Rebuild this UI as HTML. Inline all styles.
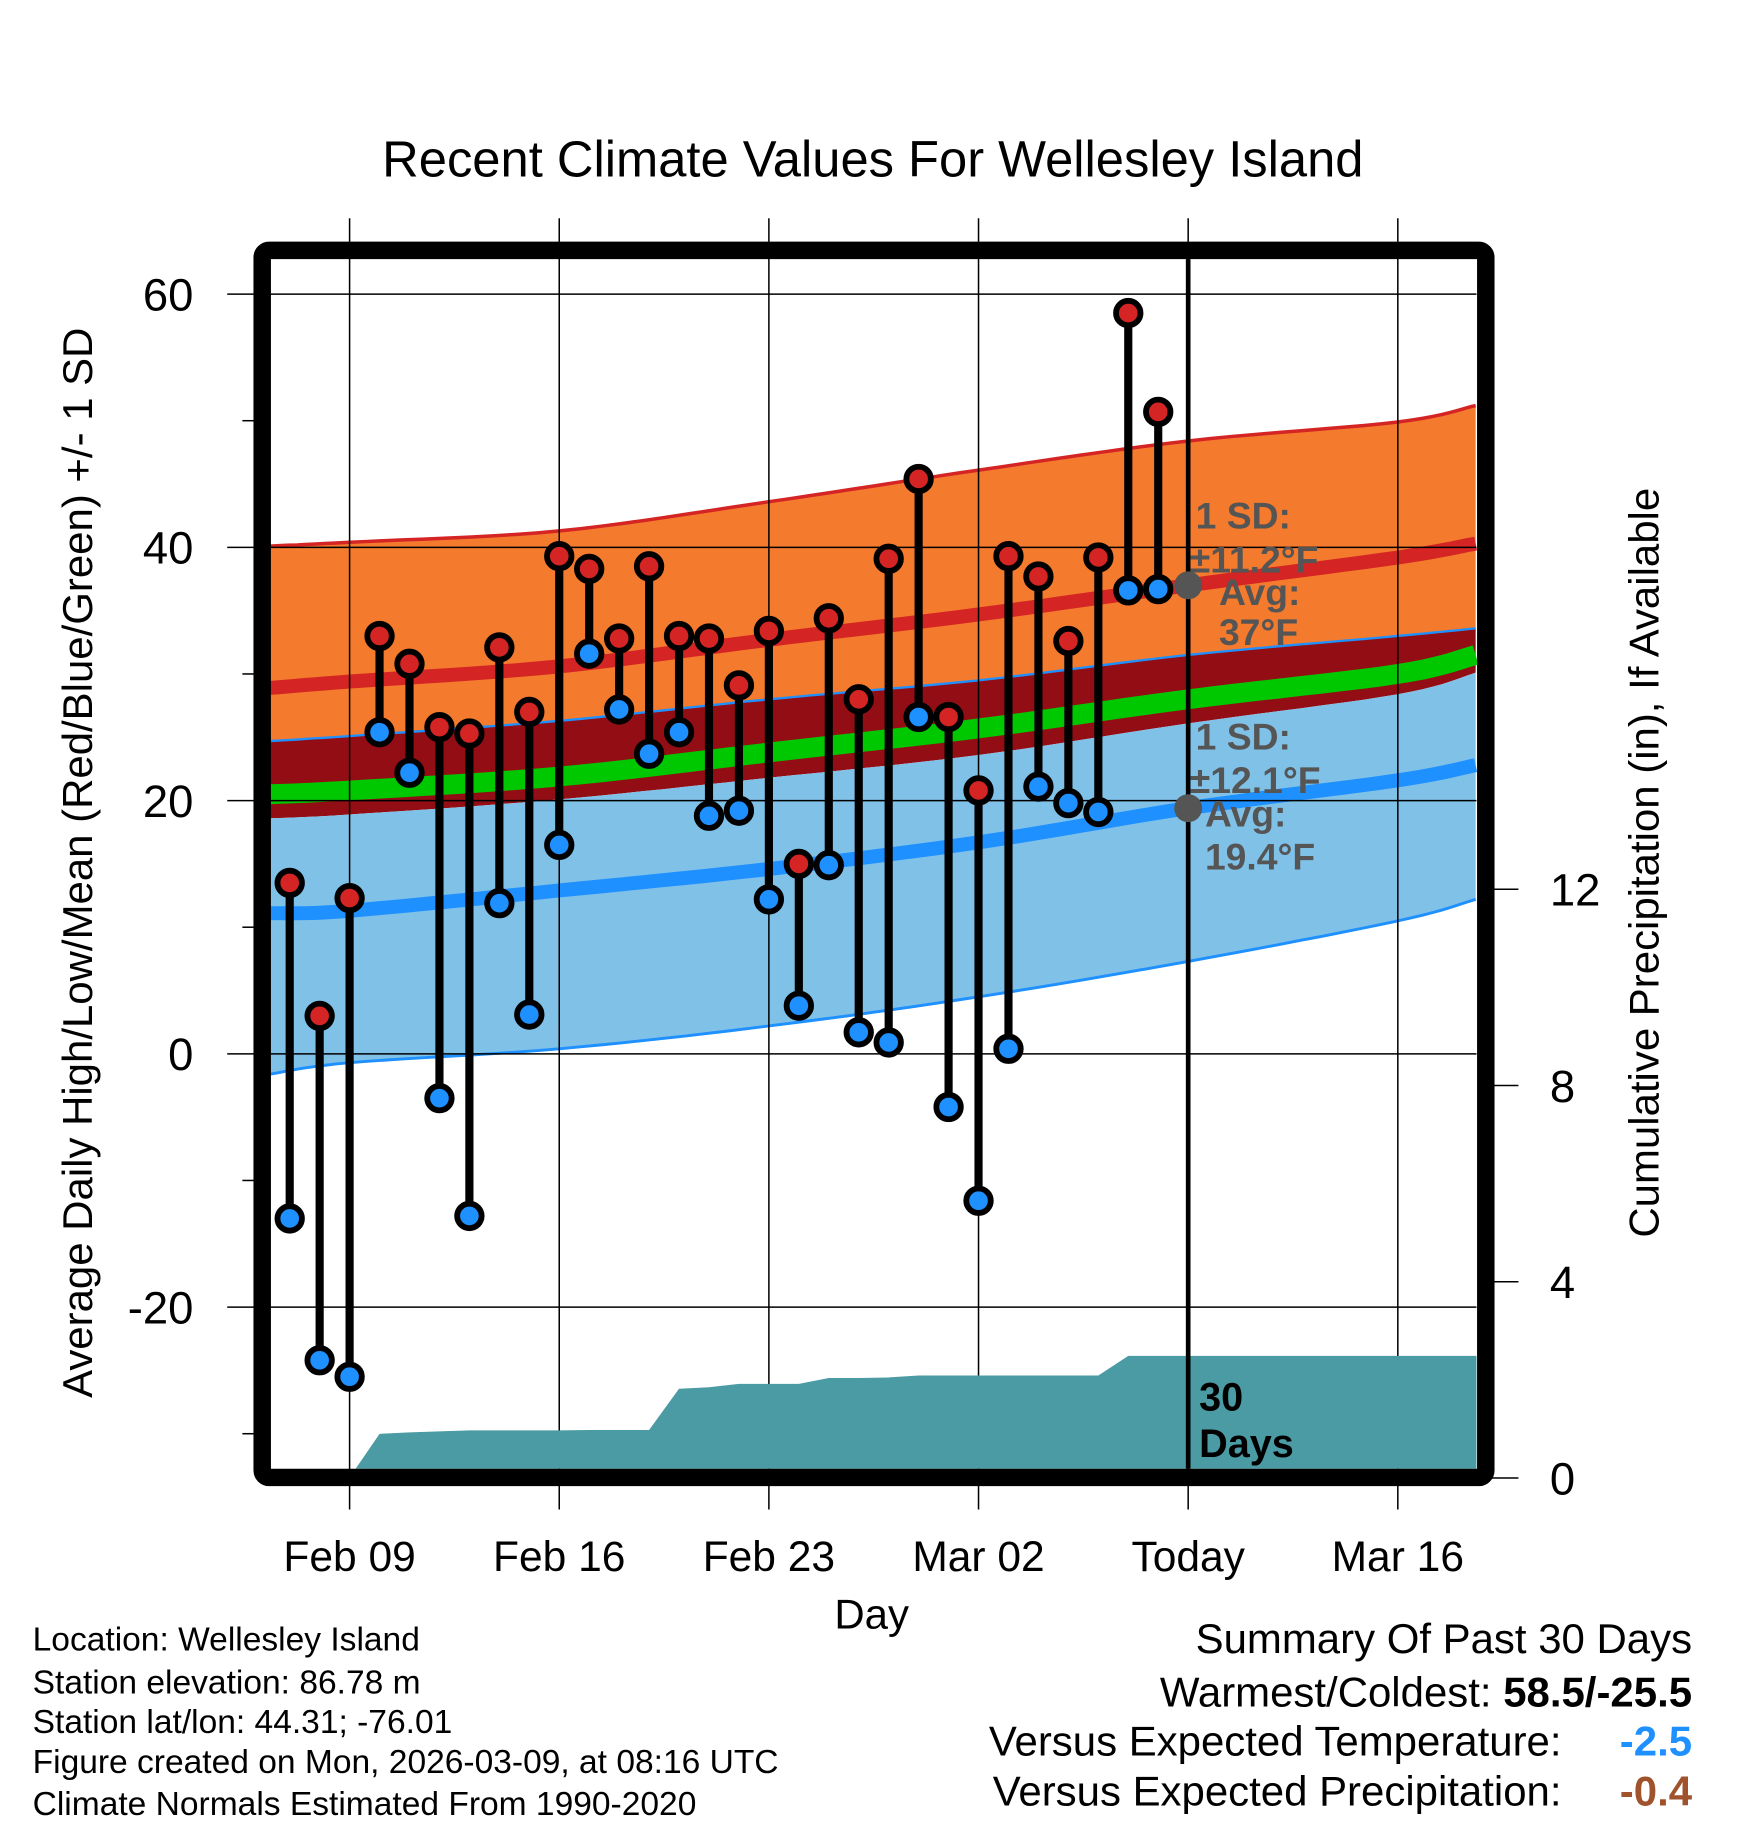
<!DOCTYPE html>
<html><head><meta charset="utf-8"><style>
html,body{margin:0;padding:0;background:#fff;}
svg{display:block;font-family:"Liberation Sans",Arial,sans-serif;}
</style></head><body>
<svg id="chart" width="1748" height="1828" viewBox="0 0 1500 1568" xmlns="http://www.w3.org/2000/svg">
<text x="749" y="151" font-size="43.5" text-anchor="middle">Recent Climate Values For Wellesley Island</text>
<g id="bands"></g>
<g id="grid"></g>
<g id="precip"></g>
<g id="marks"></g>
<g id="anno"></g>
<g id="axes"></g>
<text transform="translate(79,740) rotate(-90)" font-size="36" text-anchor="middle">Average Daily High/Low/Mean (Red/Blue/Green) +/- 1 SD</text>
<text transform="translate(1423,740) rotate(-90)" font-size="36" text-anchor="middle">Cumulative Precipitation (in), If Available</text>
<text x="748" y="1397" font-size="36" text-anchor="middle">Day</text>
<g font-size="28.8">
<text x="28" y="1416">Location: Wellesley Island</text>
<text x="28" y="1453">Station elevation: 86.78 m</text>
<text x="28" y="1487">Station lat/lon: 44.31; -76.01</text>
<text x="28" y="1521">Figure created on Mon, 2026-03-09, at 08:16 UTC</text>
<text x="28" y="1557">Climate Normals Estimated From 1990-2020</text>
</g>
<g font-size="36">
<text x="1452" y="1418" text-anchor="end">Summary Of Past 30 Days</text>
<text x="1452" y="1464" text-anchor="end">Warmest/Coldest: <tspan font-weight="bold">58.5/-25.5</tspan></text>
<text x="1340" y="1506" text-anchor="end">Versus Expected Temperature:</text>
<text x="1452" y="1506" text-anchor="end" fill="#1e90ff" font-weight="bold">-2.5</text>
<text x="1340" y="1549" text-anchor="end">Versus Expected Precipitation:</text>
<text x="1452" y="1549" text-anchor="end" fill="#a0522d" font-weight="bold">-0.4</text>
</g>
</svg>
<script>
// ---- data ----
const days = ["Feb 07","Feb 08","Feb 09","Feb 10","Feb 11","Feb 12","Feb 13","Feb 14","Feb 15","Feb 16","Feb 17","Feb 18","Feb 19","Feb 20","Feb 21","Feb 22","Feb 23","Feb 24","Feb 25","Feb 26","Feb 27","Feb 28","Mar 01","Mar 02","Mar 03","Mar 04","Mar 05","Mar 06","Mar 07","Mar 08"];
const highs = [13.5,3,12.3,33,30.8,25.8,25.3,32.1,27,39.3,38.3,32.8,38.5,33,32.8,29.1,33.4,15,34.4,28,39.1,45.4,26.6,20.8,39.3,37.7,32.6,39.2,58.5,50.7];
const lows = [-13,-24.2,-25.5,25.4,22.2,-3.5,-12.8,11.9,3.1,16.5,31.6,27.2,23.7,25.4,18.8,19.2,12.2,3.8,14.9,1.7,0.9,26.6,-4.2,-11.6,0.4,21.1,19.8,19.1,36.6,36.7];
const precip = [0,0,0,0.9,0.93,0.95,0.97,0.97,0.97,0.97,0.98,0.98,0.98,1.82,1.85,1.92,1.92,1.92,2.04,2.04,2.05,2.09,2.09,2.09,2.09,2.09,2.09,2.09,2.49,2.49];
// normals sampled at day offsets from Feb 09
const normDays = [-2.65,0,7,14,21,28,35,37.6];
const highUpper = [40.1,40.4,41.3,43.6,46.1,48.4,49.9,51.2];
const highMean = [28.9,29.4,30.6,32.7,34.7,37.0,39.2,40.3];
const bandTop = [24.7,25.1,26.3,28.0,29.5,31.5,33.0,33.6];
const meanMid = [20.5,20.8,21.9,23.8,25.7,28.0,30.0,31.5];
const bandBot = [18.6,18.9,20.1,21.8,23.6,26.1,28.4,30.1];
const lowMean = [11.1,11.3,12.9,14.6,16.7,19.4,21.6,22.8];
const lowLower = [-1.6,-0.7,0.4,2.2,4.5,7.3,10.5,12.2];
const yTicks = [60,40,20,0,-20];
const y2Ticks = [0,4,8,12];
const xTickLabels = ["Feb 09","Feb 16","Feb 23","Mar 02","Today","Mar 16"];

// ---- scales ----
const L=232,R=1267,T=222,B=1260;
const xd = d => 300 + d*25.7;
const yv = v => 904 - v*10.866;
const yp = p => 1268 - p*42.1;
const NS="http://www.w3.org/2000/svg";
function mk(parent,tag,attrs){const e=document.createElementNS(NS,tag);for(const k in attrs)e.setAttribute(k,attrs[k]);document.getElementById(parent).appendChild(e);return e;}
// smooth curve sampled via Catmull-Rom through the normal points
function curve(arr){
  const P=normDays.map((d,i)=>[Math.min(R,Math.max(L,xd(d))),yv(arr[i])]);
  const out=[];
  for(let i=0;i<P.length-1;i++){
    const p0=P[Math.max(0,i-1)],p1=P[i],p2=P[i+1],p3=P[Math.min(P.length-1,i+2)];
    for(let s=0;s<10;s++){const t=s/10,t2=t*t,t3=t2*t;
      const f=(a,b,c,d)=>0.5*(2*b+(-a+c)*t+(2*a-5*b+4*c-d)*t2+(-a+3*b-3*c+d)*t3);
      out.push(f(p0[0],p1[0],p2[0],p3[0]).toFixed(1)+","+f(p0[1],p1[1],p2[1],p3[1]).toFixed(1));}
  }
  const l=P[P.length-1];out.push(l[0].toFixed(1)+","+l[1].toFixed(1));
  return out;
}
function band(a,b){return curve(a).concat(curve(b).reverse()).join(" ");}

let e;
e=mk("bands","polygon",{points:band(highUpper,bandTop),fill:"#f47a2d"});


e=mk("bands","polygon",{points:band(bandTop,bandBot),fill:"#930e14"});


e=mk("bands","polygon",{points:band(bandBot,lowLower),fill:"#80c1e8"});


e=mk("bands","polyline",{points:curve(meanMid).join(" "),fill:"none",stroke:"#00c800","stroke-width":17});


e=mk("bands","polyline",{points:curve(highMean).join(" "),fill:"none",stroke:"#d42424","stroke-width":12});


e=mk("bands","polyline",{points:curve(lowMean).join(" "),fill:"none",stroke:"#1e90ff","stroke-width":12});


e=mk("bands","polyline",{points:curve(highUpper).join(" "),fill:"none",stroke:"#d42424","stroke-width":3});


e=mk("bands","polyline",{points:curve(bandTop).join(" "),fill:"none",stroke:"#1e90ff","stroke-width":2});


e=mk("bands","polyline",{points:curve(lowLower).join(" "),fill:"none",stroke:"#1e90ff","stroke-width":2.5});



// grid
xTickLabels.forEach((t,i)=>{const x=xd(i*7);
 e=mk("grid","line",{x1:x,x2:x,y1:187,y2:1295,stroke:"#000","stroke-width":1.3});
 
 
 e=mk("axes","text",{x:x,y:1348,"font-size":36.5,"text-anchor":"middle"});e.textContent=t;
 
 
});
yTicks.forEach(v=>{const y=yv(v);
 e=mk("grid","line",{x1:195,x2:R,y1:y,y2:y,stroke:"#000","stroke-width":1.3});
 
 
 e=mk("axes","text",{x:166,y:y+14,"font-size":39,"text-anchor":"end"});e.textContent=v;
 
 
});
[50,30,10,-10,-30].forEach(v=>{const y=yv(v);
 e=mk("axes","line",{x1:208,x2:220,y1:y,y2:y,stroke:"#000","stroke-width":1.3});
 
 
});
y2Ticks.forEach(v=>{const y=yp(v);
 e=mk("axes","line",{x1:1280,x2:1303,y1:y,y2:y,stroke:"#000","stroke-width":1.3});
 
 
 e=mk("axes","text",{x:1330,y:y+14,"font-size":39});e.textContent=v;
 
 
});

// precipitation
let pp=[];
let firstNZ=precip.findIndex(p=>p>0);
pp.push(xd(firstNZ-2-0.8)+","+B);
for(let i=firstNZ;i<precip.length;i++){pp.push(xd(i-2)+","+yp(precip[i]));}
pp.push(R+","+yp(precip[precip.length-1]));
pp.push(R+","+B);
e=mk("precip","polygon",{points:pp.join(" "),fill:"#4a9ba4"});



// today line
e=mk("anno","line",{x1:xd(28),x2:xd(28),y1:T,y2:B,stroke:"#000","stroke-width":4});



// marks
days.forEach((d,i)=>{const x=xd(i-2);
 e=mk("marks","line",{x1:x,x2:x,y1:yv(highs[i]),y2:yv(lows[i]),stroke:"#000","stroke-width":7});
 
 
 e=mk("marks","circle",{cx:x,cy:yv(highs[i]),r:10.5,fill:"#d42424",stroke:"#000","stroke-width":5});
 
 
 e=mk("marks","circle",{cx:x,cy:yv(lows[i]),r:10.5,fill:"#1e90ff",stroke:"#000","stroke-width":5});
 
 
});

// annotations
e=mk("anno","circle",{cx:xd(28),cy:yv(37),r:12,fill:"#555"});


e=mk("anno","circle",{cx:xd(28),cy:yv(19.4),r:12,fill:"#555"});


[["1 SD:",1026,453],["\u00b111.2\u00b0F",1021,491],["Avg:",1046,519],["37\u00b0F",1046,553],
 ["1 SD:",1026,643],["\u00b112.1\u00b0F",1021,680],["Avg:",1034,709],["19.4\u00b0F",1034,746]].forEach(a=>{
 e=mk("anno","text",{x:a[1],y:a[2],"font-size":32,"font-weight":"bold",fill:"#555"});e.textContent=a[0];
 
 
});
e=mk("anno","text",{x:1029,y:1210,"font-size":34,"font-weight":"bold"});e.textContent="30";


e=mk("anno","text",{x:1029,y:1250,"font-size":34,"font-weight":"bold"});e.textContent="Days";



// frame
e=mk("axes","rect",{x:225,y:214.5,width:1050,height:1053,fill:"none",stroke:"#000","stroke-width":15,rx:6});


</script>
</body></html>
